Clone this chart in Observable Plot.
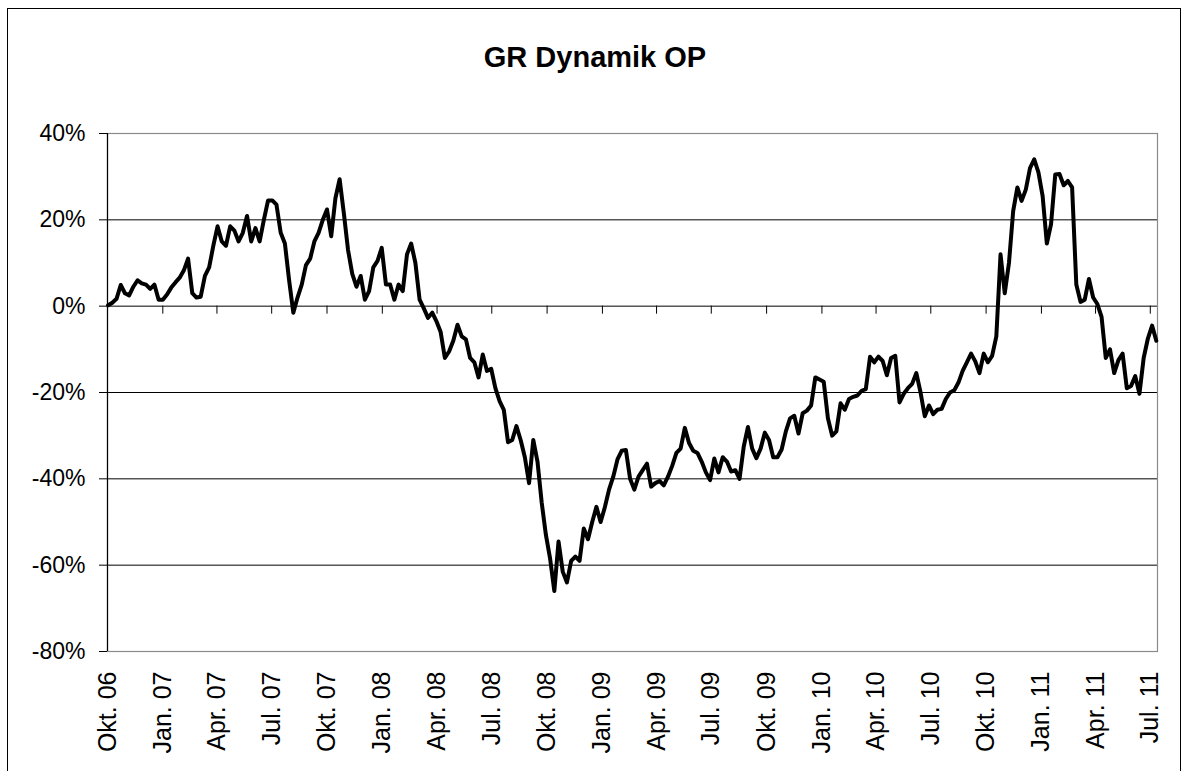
<!DOCTYPE html>
<html>
<head>
<meta charset="utf-8">
<script src="https://cdn.jsdelivr.net/npm/d3@7"></script>
<script src="https://cdn.jsdelivr.net/npm/@observablehq/plot@0.6"></script>
<style>
  html, body { margin: 0; padding: 0; background: #fff; overflow: hidden; }
  #wrap { position: relative; width: 1190px; height: 771px; overflow: hidden; font-family: "Liberation Sans", Arial, sans-serif; }
  #border { position: absolute; left: 7px; top: 8px; width: 1174px; height: 800px; border: 1px solid #000; box-sizing: border-box; }
  #title { position: absolute; left: 0; width: 1190px; top: 43px; text-align: center; font-weight: bold; font-size: 29px; line-height: 29px; color: #000; }
  #chart { position: absolute; left: 0; top: 0; }
</style>
</head>
<body>
<div id="wrap">
  <div id="border"></div>
  <div id="title">GR Dynamik OP</div>
  <div id="chart"></div>
</div>
<script>
// Weekly samples starting at this date
const startDate = "2006-10-02";
const stepDays = 7;

// Performance in percent, one value per week
const values = [
  0.2, 0.8, 1.7, 4.9, 3, 2.5, 4.5, 6, 5.3, 5,
  4, 5, 1.5, 1.5, 2.7, 4.3, 5.5, 6.6, 8.3, 11,
  3, 2, 2.2, 7, 9, 14, 18.5, 15, 14, 18.5,
  17.5, 15, 17, 20.9, 15, 18.1, 15, 20, 24.5, 24.5,
  23.5, 17, 14.5, 6, -1.5, 2, 5, 9.5, 11, 15,
  17, 20, 22.4, 16.2, 25, 29.4, 21.5, 13, 7.5, 4.5,
  7, 1.5, 3.5, 9, 10.5, 13.5, 5, 5, 1.5, 5,
  3.5, 12, 14.5, 10, 1.5, -0.5, -2.7, -1.5, -3.5, -6,
  -12, -10.5, -8, -4.3, -7, -7.7, -12, -13, -16.5, -11.2,
  -15, -14.5, -19, -22, -24, -31.5, -31, -27.8, -31, -35,
  -41, -31, -36, -45.5, -53, -58.5, -66, -54.5, -61.5, -64,
  -59, -58, -59, -51.5, -54, -50, -46.5, -50, -46.6, -42.5,
  -39.5, -35.5, -33.5, -33.3, -40, -42.5, -39.5, -38, -36.5, -41.8,
  -41, -40.5, -41.5, -39.5, -37, -34, -33, -28.2, -31.7, -33.5,
  -34, -36, -38.5, -40.3, -35.3, -38.5, -35, -36, -38.3, -38,
  -40, -32.5, -28, -33, -35.2, -33, -29.3, -31, -35, -35,
  -33.2, -29, -26, -25.4, -29.5, -24.8, -24.2, -23, -16.5, -17,
  -17.5, -26, -30, -29, -22.5, -24, -21.5, -21, -20.7, -19.6,
  -19.2, -11.7, -13, -11.7, -12.7, -16, -12, -11.5, -22.3, -20.3,
  -19, -18, -15.5, -20, -25.5, -23, -25, -24, -23.8, -21.5,
  -20, -19.5, -17.7, -15, -13, -11, -12.8, -15.5, -11, -13,
  -11.5, -7, 12, 3, 10, 22, 27.5, 24.4, 27, 32,
  34, 31, 25.5, 14.5, 19, 30.5, 30.6, 28, 29, 27.5,
  5, 1, 1.5, 6.3, 2, 0.5, -2.5, -12, -10, -15.5,
  -12.5, -11, -19, -18.5, -16.2, -20.3, -12, -7.5, -4.5, -8
];

// Axis ticks
const xTickDates = ["2006-10-01","2007-01-01","2007-04-01","2007-07-01","2007-10-01","2008-01-01","2008-04-01","2008-07-01","2008-10-01","2009-01-01","2009-04-01","2009-07-01","2009-10-01","2010-01-01","2010-04-01","2010-07-01","2010-10-01","2011-01-01","2011-04-01","2011-07-01"];
const xTickLabels = ["Okt. 06","Jan. 07","Apr. 07","Jul. 07","Okt. 07","Jan. 08","Apr. 08","Jul. 08","Okt. 08","Jan. 09","Apr. 09","Jul. 09","Okt. 09","Jan. 10","Apr. 10","Jul. 10","Okt. 10","Jan. 11","Apr. 11","Jul. 11"];
const yTicks = [40, 20, 0, -20, -40, -60, -80];
const yTickLabels = ["40%", "20%", "0%", "-20%", "-40%", "-60%", "-80%"];
const xDomain = ["2006-10-01", "2011-07-13"];
const yDomain = [-80, 40];

const start = new Date(startDate + "T00:00:00Z");
const data = values.map((v, i) => ({date: d3.utcDay.offset(start, i * stepDays), value: v}));
const tickDates = xTickDates.map(s => new Date(s + "T00:00:00Z"));
const xLabelMap = new Map(tickDates.map((d, i) => [+d, xTickLabels[i]]));
const yLabelMap = new Map(yTicks.map((d, i) => [d, yTickLabels[i]]));
const gridValues = yTicks.filter(v => v !== yDomain[0] && v !== yDomain[1]);

const W = 1190, H = 771;
const mTop = 133, mBottom = 120, mLeft = 107, mRight = 33;
const pxPerUnit = (H - mTop - mBottom) / (yDomain[1] - yDomain[0]);
const xTickLen = 8 / pxPerUnit;

const chart = Plot.plot({
  width: W,
  height: H,
  marginTop: mTop,
  marginBottom: mBottom,
  marginLeft: mLeft,
  marginRight: mRight,
  style: {fontFamily: '"Liberation Sans", Arial, sans-serif', background: "transparent", color: "#000", overflow: "visible"},
  x: {type: "utc", domain: xDomain.map(s => new Date(s + "T00:00:00Z"))},
  y: {domain: yDomain},
  marks: [
    Plot.ruleY(gridValues, {stroke: "#000", strokeWidth: 1}),
    Plot.frame({stroke: "#8a8a8a", strokeWidth: 1.2}),
    Plot.ruleX([new Date(xDomain[0] + "T00:00:00Z")], {stroke: "#000", strokeWidth: 1.2}),
    Plot.ruleX(tickDates, {x: d => d, y1: 0, y2: -xTickLen, stroke: "#000", strokeWidth: 1}),
    Plot.axisY({
      ticks: yTicks,
      tickSize: 8,
      tickPadding: 14,
      tickFormat: d => yLabelMap.get(d),
      fontSize: 23,
      stroke: "#000",
      label: null
    }),
    Plot.axisX({
      ticks: tickDates,
      tickSize: 0,
      tickPadding: 20,
      tickRotate: -90,
      tickFormat: d => xLabelMap.get(+d),
      fontSize: 25,
      anchor: "bottom",
      label: null
    }),
    Plot.lineY(data, {x: "date", y: "value", stroke: "#000", strokeWidth: 4, strokeLinejoin: "round", strokeLinecap: "round"})
  ]
});
document.getElementById("chart").appendChild(chart);
</script>
</body>
</html>
